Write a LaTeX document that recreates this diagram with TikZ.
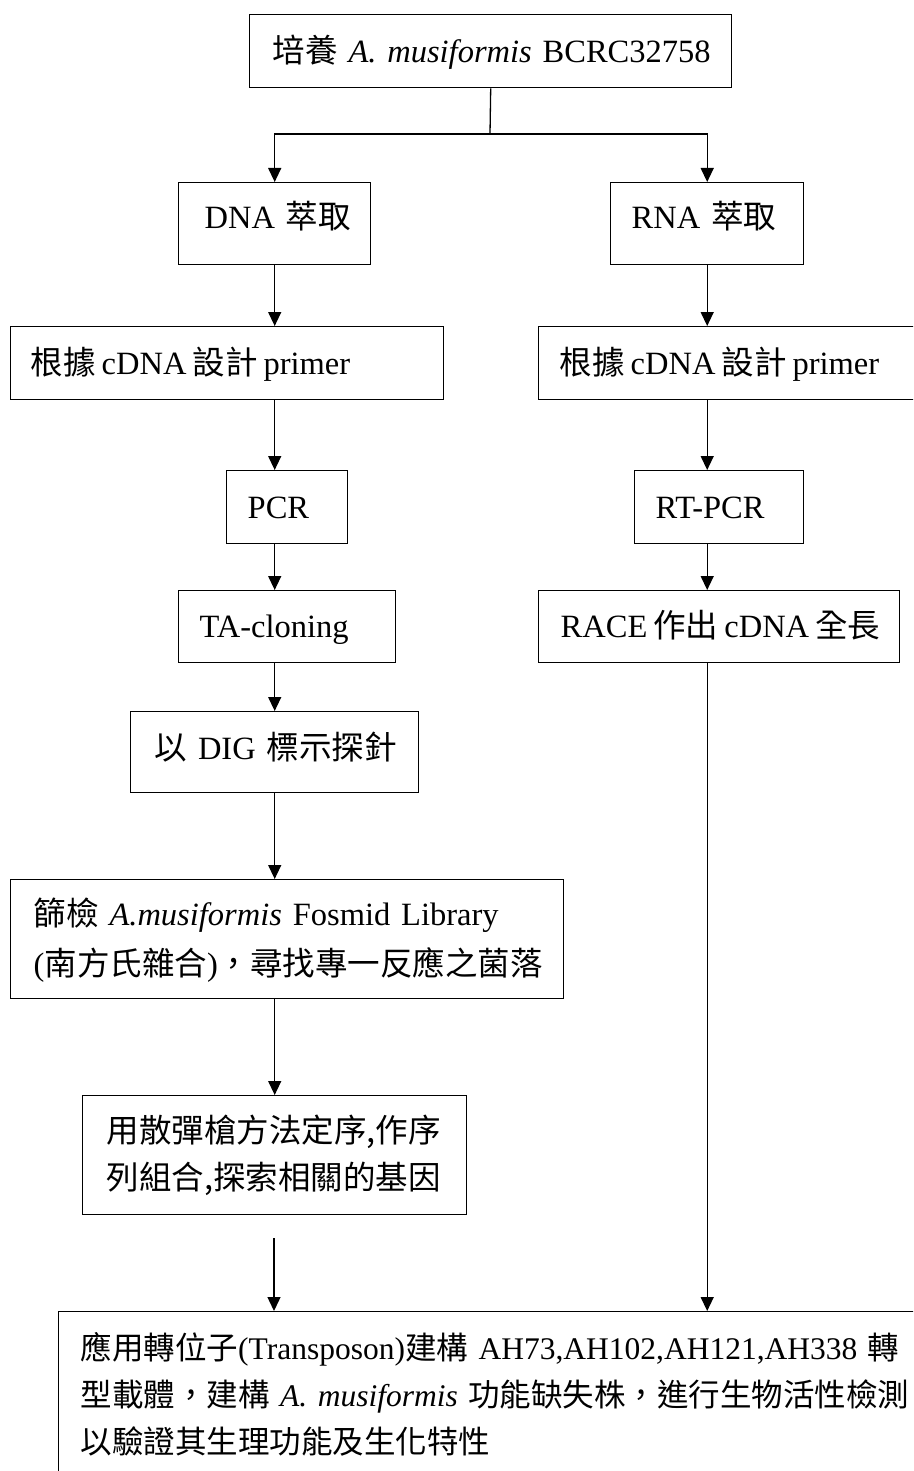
\documentclass[tikz,border=0pt]{standalone}
\usepackage{fontspec}
\setmainfont{Liberation Serif}
\newfontfamily\cjkfont{Noto Sans CJK TC}
\newcommand{\zh}[1]{{\cjkfont #1}}
\usetikzlibrary{arrows.meta}
\tikzset{
  box/.style={draw, line width=1.4pt, anchor=north west, align=left, inner ysep=0pt,
    font=\fontsize{32.5}{47}\selectfont, text height=26pt, text depth=4pt},
  ln/.style={line width=1.3pt},
  arr/.style={line width=1.3pt, -{Triangle[length=14pt,width=13pt]}}
}
\begin{document}
\begin{tikzpicture}[x=1pt,y=-1pt]
\useasboundingbox (0,0) rectangle (913,1471);
\begin{scope}
\clip (0,0) rectangle (913,1471);
\node[box, minimum width=482pt, minimum height=73pt, inner xsep=23pt, text width=436pt] (top) at (249,14)
  {\mbox{\zh{培養} \textit{A. musiformis} BCRC32758}};
\node[box, minimum width=192pt, minimum height=82pt, inner xsep=26pt, text width=140pt, text height=20pt, text depth=10pt] (dna) at (178,182)
  {\mbox{DNA \zh{萃取}}};
\node[box, minimum width=193pt, minimum height=82pt, inner xsep=21pt, text width=151pt, text height=20pt, text depth=10pt] (rna) at (610,182)
  {\mbox{RNA \zh{萃取}}};
\node[box, minimum width=433pt, minimum height=73pt, inner xsep=20pt, text width=393pt] (pl) at (10,326)
  {\mbox{\zh{根據}\hspace{6pt}cDNA\hspace{6pt}\zh{設計}\hspace{6pt}primer}};
\node[box, minimum width=400pt, minimum height=73pt, inner xsep=21pt, text width=358pt] (pr) at (538,326)
  {\mbox{\zh{根據}\hspace{6pt}cDNA\hspace{6pt}\zh{設計}\hspace{6pt}primer}};
\node[box, minimum width=121pt, minimum height=73pt, inner xsep=21pt, text width=79pt] (pcr) at (226,470)
  {\mbox{PCR}};
\node[box, minimum width=169pt, minimum height=73pt, inner xsep=21pt, text width=127pt] (rtpcr) at (634,470)
  {\mbox{RT-PCR}};
\node[box, minimum width=217pt, minimum height=72pt, inner xsep=21pt, text width=175pt] (ta) at (178,590)
  {\mbox{TA-cloning}};
\node[box, minimum width=361pt, minimum height=72pt, inner xsep=22pt, text width=317pt] (race) at (538,590)
  {\mbox{RACE\hspace{6pt}\zh{作出}\hspace{6pt}cDNA\hspace{6pt}\zh{全長}}};
\node[box, minimum width=288pt, minimum height=81pt, inner xsep=24pt, text width=240pt, text height=22pt, text depth=8pt] (dig) at (130,711)
  {\mbox{\zh{以} DIG \zh{標示探針}}};
\node[box, minimum width=553pt, minimum height=119pt, inner xsep=23pt, text width=507pt,
  font=\fontsize{32.5}{50}\selectfont, text height=26pt, text depth=54pt] (scr) at (10,879)
  {\mbox{\zh{篩檢} \textit{A.musiformis} Fosmid Library}\\\mbox{(\zh{南方氏雜合})\zh{，尋找專一反應之菌落}}};
\node[box, minimum width=384pt, minimum height=119pt, inner xsep=24pt, text width=336pt,
  text height=26pt, text depth=51pt] (sh) at (82,1095)
  {\mbox{\zh{用散彈槍方法定序,作序}}\\\mbox{\zh{列組合,探索相關的基因}}};
\node[box, minimum width=900pt, minimum height=220pt, inner xsep=22pt, text width=856pt,
  font=\fontsize{31.5}{47}\selectfont, text height=26pt, text depth=150pt] (bot) at (58,1311)
  {\mbox{\zh{應用轉位子}(Transposon)\zh{建構} AH73,AH102,AH121,AH338 \zh{轉}}\\
   \mbox{\zh{型載體，建構} \textit{A. musiformis} \zh{功能缺失株，進行生物活性檢測}}\\
   \mbox{\zh{以驗證其生理功能及生化特性}}};
\end{scope}
% connectors
\coordinate (split) at (490,134);
\coordinate (free) at (274,1238);
\coordinate (racedown) at (race.south -| rna.south);
\draw[ln] (top.south) -- (split);
\draw[arr] (split) -| (dna.north);
\draw[arr] (split) -| (rna.north);
\draw[arr] (dna.south) -- (dna.south |- pl.north);
\draw[arr] (pl.south -| dna.south) -- (pcr.north -| dna.south);
\draw[arr] (pcr.south -| dna.south) -- (ta.north -| dna.south);
\draw[arr] (ta.south -| dna.south) -- (dig.north);
\draw[arr] (dig.south) -- (dig.south |- scr.north);
\draw[arr] (scr.south -| dig.south) -- (sh.north -| dig.south);
\draw[arr] (free) -- (free |- bot.north);
\draw[arr] (rna.south) -- (rna.south |- pr.north);
\draw[arr] (pr.south -| rna.south) -- (rtpcr.north -| rna.south);
\draw[arr] (rtpcr.south -| rna.south) -- (race.north -| rna.south);
\draw[arr] (racedown) -- (racedown |- bot.north);
\end{tikzpicture}
\end{document}
